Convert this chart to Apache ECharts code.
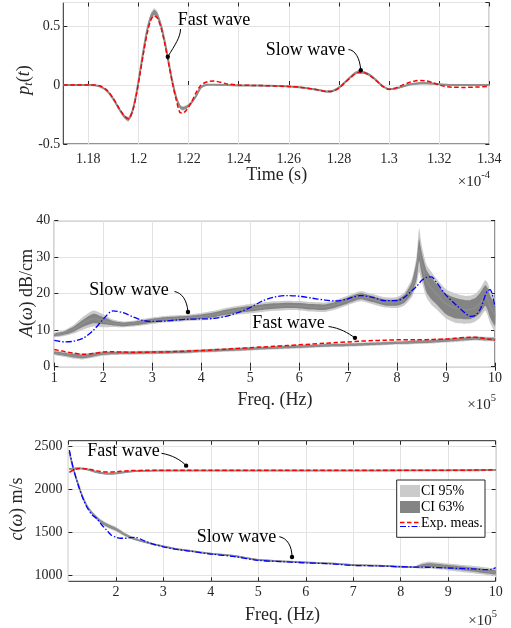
<!DOCTYPE html>
<html>
<head>
<meta charset="utf-8">
<script src="https://cdn.jsdelivr.net/npm/echarts@6/dist/echarts.min.js"></script>
<style>html,body{margin:0;padding:0;background:#fff;}#c{width:511px;height:628px;}</style>
</head>
<body>
<div id="c"></div>
<script>
// ---------- Top panel: transmitted pulse p_t(t), time in units of 1e-4 s ----------
const pulseTime = [1.170,1.175,1.180,1.1825,1.185,1.1875,1.190,1.1925,1.1945,1.196,
  1.1975,1.199,1.2005,1.202,1.2035,1.205,1.2063,1.2075,1.209,1.2105,
  1.212,1.2135,1.215,1.2165,1.2175,1.219,1.221,1.223,1.225,1.2275,
  1.230,1.235,1.240,1.245,1.250,1.255,1.260,1.265,1.270,1.2725,
  1.275,1.2775,1.280,1.2825,1.285,1.2875,1.290,1.2925,1.295,1.2975,
  1.300,1.3025,1.305,1.3075,1.310,1.3125,1.315,1.3175,1.320,1.3225,
  1.325,1.330,1.335,1.340];
const pulseModel = [0,0,0,-0.002,-0.015,-0.05,-0.12,-0.21,-0.27,-0.29,
  -0.227,-0.09,0.096,0.295,0.469,0.583,0.616,0.593,0.505,0.365,
  0.198,0.032,-0.102,-0.182,-0.198,-0.19,-0.153,-0.093,-0.019,0.002,
  0.003,0.0,-0.003,-0.004,-0.005,-0.008,-0.012,-0.02,-0.035,-0.045,
  -0.055,-0.05,-0.022,0.025,0.075,0.11,0.106,0.082,0.038,-0.01,
  -0.035,-0.03,-0.015,0.0,0.01,0.015,0.015,0.012,0.007,0.002,
  0.0,0.0,0.0,0.0];
const pulseExp = [0,0,0,0,-0.01,-0.045,-0.115,-0.205,-0.265,-0.285,
  -0.23,-0.1,0.08,0.27,0.44,0.555,0.587,0.57,0.485,0.35,
  0.185,0.02,-0.12,-0.232,-0.238,-0.215,-0.15,-0.065,0.0,0.028,
  0.034,0.012,0.0,-0.003,-0.005,-0.008,-0.012,-0.02,-0.035,-0.045,
  -0.054,-0.052,-0.025,0.022,0.07,0.104,0.104,0.078,0.034,-0.012,
  -0.036,-0.026,-0.004,0.018,0.033,0.039,0.035,0.02,0.0,-0.012,
  -0.018,-0.02,-0.017,-0.012];
const pulseCI95 = [.006,.006,.006,.006,.007,.008,.01,.014,.018,.022,
  .018,.012,.012,.016,.022,.03,.035,.032,.024,.016,
  .012,.012,.015,.019,.02,.018,.014,.01,.008,.006,
  .006,.006,.006,.006,.006,.006,.006,.006,.007,.007,
  .008,.008,.009,.01,.012,.013,.013,.012,.01,.009,
  .008,.008,.008,.009,.01,.011,.011,.01,.009,.008,
  .007,.006,.006,.006];
const pulseCI63 = [.003,.003,.003,.003,.004,.005,.006,.008,.011,.013,
  .011,.007,.007,.009,.013,.018,.02,.019,.014,.009,
  .007,.007,.009,.011,.012,.011,.008,.006,.005,.003,
  .003,.003,.003,.003,.003,.003,.003,.003,.004,.004,
  .005,.005,.005,.006,.007,.008,.008,.007,.006,.005,
  .005,.005,.005,.005,.006,.006,.006,.006,.005,.004,
  .004,.003,.003,.003];

// ---------- Middle panel: attenuation A(w) dB/cm, frequency in units of 1e5 Hz ----------
const attFreq = [1.0,1.2,1.4,1.6,1.8,2.0,2.2,2.4,2.6,2.8,3.0,
  3.25,3.5,3.75,4.0,4.25,4.5,4.75,5.0,5.25,5.5,5.75,6.0,6.25,6.5,6.75,7.0,7.25,7.5,7.75,8.0,
  8.15,8.3,8.4,8.45,8.5,8.6,8.7,8.8,
  9.0,9.2,9.4,9.5,9.6,9.7,9.8,9.85,9.9,10.0];
const attSlowModel = [8.7,9.2,10.3,12.0,13.2,12.6,11.9,11.6,11.8,12.2,12.6,
  13.0,13.2,13.4,13.7,14.2,14.9,15.5,15.9,16.3,16.6,16.8,16.7,16.4,16.3,17.0,18.2,19.3,18.5,17.6,17.6,
  18.6,21.5,26.5,32,28.5,23.5,21.5,20,
  17.2,16,15.6,15.7,16.2,17.5,19.5,18.5,16.5,14];
const attSlowCI95 = [0.6,0.8,1.2,1.8,2.2,1.8,1.0,0.8,0.8,0.9,0.9,
  0.9,0.9,0.9,1.0,1.1,1.2,1.2,1.3,1.3,1.3,1.3,1.3,1.3,1.3,1.3,1.3,1.4,1.4,1.4,1.5,
  1.8,2.5,4,6,5,4.5,4.5,4.2,
  4,4,3.8,3.8,3.8,4,4.2,4.5,4.5,4.2];
const attSlowCI63 = [0.35,0.45,0.7,1.0,1.3,1.0,0.6,0.5,0.5,0.55,0.55,
  0.55,0.55,0.55,0.6,0.65,0.7,0.7,0.75,0.75,0.75,0.75,0.75,0.75,0.75,0.75,0.8,0.8,0.8,0.8,0.9,
  1.1,1.6,2.5,3,3,3,3,2.8,
  2.8,2.8,2.6,2.6,2.6,2.8,2.8,3,3,2.8];
const attSlowExp = [7.2,6.8,7.0,7.9,10.0,13.0,15.3,14.8,13.7,12.7,12.4,
  12.5,12.8,13.0,13.1,13.2,13.8,14.8,16.2,18.0,19.1,19.5,19.3,18.8,18.3,18.0,18.6,19.5,19.0,18.1,18.1,
  19.0,20.8,22.0,22.8,23.6,24.5,24.6,23.2,
  19.6,17.0,14.6,13.8,14.1,15.8,19.5,20.8,21.1,16.4];
const attFastModel = [3.8,3.4,3.0,2.8,3.2,3.6,3.7,3.8,3.8,3.85,3.9,
  3.95,4.05,4.15,4.3,4.45,4.6,4.75,4.9,5.05,5.2,5.35,5.5,5.65,5.8,5.9,6.0,6.1,6.25,6.4,6.55,
  6.6,6.7,6.75,6.8,6.8,6.85,6.9,7.0,
  7.2,7.4,7.6,7.7,7.75,7.7,7.6,7.6,7.55,7.5];
const attFastExp = [4.7,4.2,3.7,3.4,3.6,4.0,4.1,4.0,3.95,3.95,4.0,
  4.05,4.15,4.3,4.45,4.6,4.8,5.0,5.2,5.4,5.6,5.8,6.0,6.2,6.4,6.6,6.8,7.0,7.15,7.25,7.35,
  7.35,7.35,7.35,7.35,7.4,7.4,7.45,7.5,
  7.6,7.8,8.0,8.05,8.05,7.9,7.7,7.6,7.5,7.3];
const attFastCI95 = [0.6,0.7,0.8,0.8,0.7,0.6,0.5,0.5,0.5,0.5,0.5,
  0.5,0.5,0.5,0.5,0.5,0.5,0.5,0.5,0.5,0.5,0.5,0.5,0.5,0.5,0.5,0.5,0.5,0.5,0.5,0.5,
  0.55,0.55,0.55,0.55,0.55,0.55,0.55,0.55,
  0.6,0.6,0.6,0.6,0.6,0.6,0.6,0.6,0.6,0.6];
const attFastCI63 = [0.35,0.4,0.45,0.45,0.4,0.35,0.3,0.3,0.3,0.3,0.3,
  0.3,0.3,0.3,0.3,0.3,0.3,0.3,0.3,0.3,0.3,0.3,0.3,0.3,0.3,0.3,0.3,0.3,0.3,0.3,0.3,
  0.33,0.33,0.33,0.33,0.33,0.33,0.33,0.33,
  0.36,0.36,0.36,0.36,0.36,0.36,0.36,0.36,0.36,0.36];

// ---------- Bottom panel: phase velocity c(w) m/s, frequency in units of 1e5 Hz ----------
const velFreq = [1.02,1.1,1.2,1.3,1.4,1.5,1.6,1.7,1.8,1.9,
  2.0,2.1,2.2,2.3,2.4,2.6,2.8,3.0,3.25,3.5,
  4.0,4.5,5.0,5.5,6.0,6.5,7.0,7.5,8.0,8.3,
  8.45,8.6,9.0,9.5,9.8,9.9,10.0];
const velSlowModel = [2440,2250,2070,1915,1800,1725,1668,1620,1588,1562,
  1538,1505,1472,1445,1422,1390,1362,1338,1308,1290,
  1252,1225,1180,1163,1150,1138,1120,1113,1100,1095,
  1110,1118,1097,1068,1048,1040,1035];
const velSlowExp = [2460,2255,2065,1905,1785,1705,1660,1590,1530,1470,
  1443,1432,1432,1440,1443,1402,1362,1332,1305,1286,
  1248,1218,1175,1160,1145,1135,1115,1110,1100,1096,
  1095,1093,1085,1075,1066,1068,1090];
const velSlowCI95 = [15,15,15,15,15,18,24,28,28,28,
  28,26,22,18,14,10,10,10,10,10,
  10,10,10,10,10,10,10,10,10,10,
  35,40,40,42,44,45,45];
const velSlowCI63 = [8,8,8,8,8,10,13,15,15,15,
  15,14,12,10,8,6,6,6,6,6,
  6,6,6,6,6,6,6,6,6,6,
  18,22,22,23,24,25,25];
const velFastModel = [2240,2245,2248,2245,2235,2220,2203,2192,2186,2185,
  2189,2196,2204,2210,2214,2218,2220,2221,2222,2222,
  2222,2222,2222,2222,2222,2222,2222,2222,2223,2223,
  2223,2223,2224,2225,2226,2226,2227];
const velFastExp = [2200,2225,2243,2246,2240,2230,2218,2210,2205,2205,
  2208,2213,2218,2221,2223,2224,2224,2224,2224,2224,
  2224,2224,2224,2224,2224,2224,2224,2224,2225,2225,
  2225,2225,2226,2227,2229,2230,2231];
const velFastCI95 = [10,10,10,10,12,14,14,14,14,14,
  14,12,10,10,10,9,9,9,9,9,
  9,9,9,9,9,9,9,9,9,9,
  9,9,9,9,9,9,9];
const velFastCI63 = [6,6,6,6,7,8,8,8,8,8,
  8,7,6,6,6,5,5,5,5,5,
  5,5,5,5,5,5,5,5,5,5,
  5,5,5,5,5,5,5];

// legend labels
const legendLabels = ['CI 95%', 'CI 63%', 'Exp. meas.'];

// ------------------------------------------------------------
const FF = 'Liberation Serif';
const INK = '#262626';
const LIGHT = '#cbcbcb';
const DARK = '#848484';
const MEDIAN = '#8e8e8e';
const GRIDC = '#e3e3e3';
const TICK_FS = 14;

const chart = echarts.init(document.getElementById('c'), null, {renderer: 'canvas'});

function band(xi, yi, xs, mid, w, color, z) {
  return {
    type: 'custom', xAxisIndex: xi, yAxisIndex: yi, silent: true, z: z,
    data: xs.map((x, i) => [x, mid[i]]),
    encode: {x: 0, y: 1},
    renderItem: function (params, api) {
      if (params.dataIndex !== 0) return null;
      const pts = [];
      for (let i = 0; i < xs.length; i++) pts.push(api.coord([xs[i], mid[i] + w[i]]));
      for (let i = xs.length - 1; i >= 0; i--) pts.push(api.coord([xs[i], mid[i] - w[i]]));
      return {type: 'polygon', shape: {points: pts, smooth: 0.2}, style: {fill: color}};
    }
  };
}
function line(xi, yi, xs, ys, color, width, dash, z) {
  return {
    type: 'line', xAxisIndex: xi, yAxisIndex: yi, silent: true, z: z,
    data: xs.map((x, i) => [x, ys[i]]),
    showSymbol: false, symbol: 'none', smooth: 0.3,
    lineStyle: {color: color, width: width, type: dash}
  };
}
function modelSet(xi, yi, xs, mid, w95, w63, mw) {
  return [band(xi, yi, xs, mid, w95, LIGHT, 2), band(xi, yi, xs, mid, w63, DARK, 3),
          line(xi, yi, xs, mid, MEDIAN, mw || 1.4, 'solid', 4)];
}
const RED_DASH = [4.5, 2.5];
const BLUE_DASHDOT = [6, 2, 1.5, 2];

const tickStyle = {inside: true, length: 4, lineStyle: {color: INK, width: 1}};
const plainNum = v => '{t|' + String(Math.round(v * 1000) / 1000) + '}';
const labelStyle = (m, extra) => Object.assign({
  color: INK, fontFamily: FF, fontSize: TICK_FS, margin: m, formatter: plainNum,
  rich: {t: {fontFamily: FF, fontSize: TICK_FS, color: INK}}
}, extra || {});
const split = {show: true, lineStyle: {color: GRIDC, width: 1}};
const hidden = (g, min, max) => ({gridIndex: g, type: 'value', min: min, max: max, show: false});

const grids = [
  {left: 63.3, right: 21.7, top: 2.5, bottom: 484, show: true, borderColor: INK, borderWidth: 1, backgroundColor: 'transparent', outerBoundsMode: 'none'},
  {left: 88.37, right: 21.7, top: 2.5, bottom: 484, show: false, outerBoundsMode: 'none'},
  {left: 54.3, right: 16, top: 220.7, bottom: 261.3, show: true, borderColor: INK, borderWidth: 1, backgroundColor: 'transparent', outerBoundsMode: 'none'},
  {left: 68.4, right: 15.3, top: 440.7, bottom: 46.7, show: true, borderColor: INK, borderWidth: 1, backgroundColor: 'transparent', outerBoundsMode: 'none'},
  {left: 68.4, right: 15.3, top: 446.7, bottom: 52.7, show: false, outerBoundsMode: 'none'}
];

const xAxes = [
  hidden(0, 1.17, 1.34),
  {gridIndex: 1, type: 'value', min: 1.18, max: 1.34, interval: 0.02, position: 'bottom',
   axisLine: {show: false}, axisTick: tickStyle, axisLabel: labelStyle(8), splitLine: split},
  {gridIndex: 1, type: 'value', min: 1.18, max: 1.34, interval: 0.02, position: 'top',
   axisLine: {show: false}, axisTick: tickStyle, axisLabel: {show: false}, splitLine: {show: false}},
  {gridIndex: 2, type: 'value', min: 1, max: 10, interval: 1, position: 'bottom',
   axisLine: {show: false}, axisTick: tickStyle, axisLabel: labelStyle(4.5), splitLine: split},
  {gridIndex: 2, type: 'value', min: 1, max: 10, interval: 1, position: 'top',
   axisLine: {show: false}, axisTick: tickStyle, axisLabel: {show: false}, splitLine: {show: false}},
  {gridIndex: 3, type: 'value', min: 1, max: 10, interval: 1, position: 'bottom',
   axisLine: {show: false}, axisTick: tickStyle, axisLabel: labelStyle(4, {showMinLabel: false}), splitLine: split},
  {gridIndex: 3, type: 'value', min: 1, max: 10, interval: 1, position: 'top',
   axisLine: {show: false}, axisTick: tickStyle, axisLabel: {show: false}, splitLine: {show: false}},
  hidden(4, 1, 10)
];
const yAxes = [
  {gridIndex: 0, type: 'value', min: -0.5, max: 0.7, interval: 0.5, position: 'left',
   axisLine: {show: false}, axisTick: tickStyle, axisLabel: labelStyle(3, {showMaxLabel: false}), splitLine: split},
  {gridIndex: 0, type: 'value', min: -0.5, max: 0.7, interval: 0.5, position: 'right',
   axisLine: {show: false}, axisTick: tickStyle, axisLabel: {show: false}, splitLine: {show: false}},
  hidden(1, -0.5, 0.7),
  {gridIndex: 2, type: 'value', min: 0, max: 40, interval: 10, position: 'left',
   axisLine: {show: false}, axisTick: tickStyle, axisLabel: labelStyle(4), splitLine: split},
  {gridIndex: 2, type: 'value', min: 0, max: 40, interval: 10, position: 'right',
   axisLine: {show: false}, axisTick: tickStyle, axisLabel: {show: false}, splitLine: {show: false}},
  hidden(3, 930, 2570),
  {gridIndex: 4, type: 'value', min: 1000, max: 2500, interval: 500, position: 'left',
   axisLine: {show: false}, axisTick: tickStyle, axisLabel: labelStyle(6), splitLine: split},
  {gridIndex: 4, type: 'value', min: 1000, max: 2500, interval: 500, position: 'right',
   axisLine: {show: false}, axisTick: tickStyle, axisLabel: {show: false}, splitLine: {show: false}}
];

const series = [].concat(
  modelSet(0, 0, pulseTime, pulseModel, pulseCI95, pulseCI63, 2),
  [line(0, 0, pulseTime, pulseExp, '#ff0000', 1.5, RED_DASH, 6)],
  modelSet(3, 3, attFreq, attSlowModel, attSlowCI95, attSlowCI63),
  modelSet(3, 3, attFreq, attFastModel, attFastCI95, attFastCI63),
  [line(3, 3, attFreq, attSlowExp, '#0000ff', 1.3, BLUE_DASHDOT, 6),
   line(3, 3, attFreq, attFastExp, '#ff0000', 1.5, RED_DASH, 6)],
  modelSet(5, 5, velFreq, velSlowModel, velSlowCI95, velSlowCI63, 1.8),
  modelSet(5, 5, velFreq, velFastModel, velFastCI95, velFastCI63, 1.8),
  [line(5, 5, velFreq, velSlowExp, '#0000ff', 1.3, BLUE_DASHDOT, 6),
   line(5, 5, velFreq, velFastExp, '#ff0000', 1.5, RED_DASH, 6)]
);

chart.setOption({
  animation: false,
  backgroundColor: '#ffffff',
  textStyle: {fontFamily: FF},
  grid: grids,
  xAxis: xAxes,
  yAxis: yAxes,
  series: series
});

// ---------- annotations, axis titles, legend ----------
const P = (xi, yi, pt) => chart.convertToPixel({xAxisIndex: xi, yAxisIndex: yi}, pt);
const annotations = [
  {text: 'Fast wave', tx: 177.7, ty: 20.5, s: [180.5, 29], c1: [180.5, 37], c2: [175, 45], xi: 0, yi: 0, pt: [1.2117, 0.24]},
  {text: 'Slow wave', tx: 265.7, ty: 50, s: [348.5, 49.5], c1: [355, 50], c2: [360, 58], xi: 0, yi: 0, pt: [1.2887, 0.125]},
  {text: 'Slow wave', tx: 89.3, ty: 290.7, s: [174.5, 291.5], c1: [182, 293], c2: [187, 300], xi: 3, yi: 3, pt: [3.73, 15.0]},
  {text: 'Fast wave', tx: 252.3, ty: 323, s: [328.5, 326.5], c1: [340, 328], c2: [348, 333], xi: 3, yi: 3, pt: [7.14, 7.9]},
  {text: 'Fast wave', tx: 87.3, ty: 451, s: [161.5, 453.3], c1: [172, 455], c2: [181, 460], xi: 5, yi: 5, pt: [3.48, 2279]},
  {text: 'Slow wave', tx: 196.7, ty: 537.7, s: [279.3, 536.7], c1: [287, 538], c2: [292, 546], xi: 5, yi: 5, pt: [5.71, 1213]}
];
const g = [];
annotations.forEach(a => {
  const d = P(a.xi, a.yi, a.pt);
  g.push({type: 'text', x: a.tx, y: a.ty, z: 100,
    style: {text: a.text, fill: '#000', fontFamily: FF, fontSize: 18, align: 'left', verticalAlign: 'middle'}});
  g.push({type: 'bezierCurve', z: 100,
    shape: {x1: a.s[0], y1: a.s[1], cpx1: a.c1[0], cpy1: a.c1[1], cpx2: a.c2[0], cpy2: a.c2[1], x2: d[0], y2: d[1]},
    style: {stroke: '#000', lineWidth: 1, fill: null}});
  g.push({type: 'circle', z: 101, shape: {cx: d[0], cy: d[1], r: 2.2}, style: {fill: '#000'}});
});

const titleRich = {
  n: {fontFamily: FF, fontSize: 18, fill: INK, lineHeight: 22},
  i: {fontFamily: FF, fontSize: 18, fontStyle: 'italic', fill: INK, lineHeight: 22},
  s: {fontFamily: FF, fontSize: 12, fontStyle: 'italic', fill: INK, lineHeight: 12, verticalAlign: 'bottom'}
};
const expRich = {
  a: {fontFamily: FF, fontSize: 15, fill: INK, lineHeight: 20, verticalAlign: 'bottom'},
  b: {fontFamily: FF, fontSize: 10.5, fill: INK, lineHeight: 11, verticalAlign: 'top'}
};
function xTitle(x, y, text) {
  return {type: 'text', x: x, y: y, style: {text: text, fill: INK, fontFamily: FF, fontSize: 18, align: 'center', verticalAlign: 'middle'}};
}
function yTitle(x, y, rt) {
  return {type: 'text', x: x, y: y, rotation: Math.PI / 2,
    style: {text: rt, rich: titleRich, align: 'center', verticalAlign: 'middle'}};
}
function expo(x, y, rt) {
  return {type: 'text', x: x, y: y, style: {text: rt, rich: expRich, align: 'right', verticalAlign: 'middle'}};
}
g.push(xTitle(276.7, 175, 'Time (s)'));
g.push(xTitle(275, 400.5, 'Freq. (Hz)'));
g.push(xTitle(282.5, 615, 'Freq. (Hz)'));
g.push(expo(490, 180, '{a|×10}{b|-4}'));
g.push(expo(496, 403, '{a|×10}{b|5}'));
g.push(expo(497, 619, '{a|×10}{b|5}'));
g.push(yTitle(24, 80, '{i|p}{s|t}{n|(}{i|t}{n|)}'));
g.push(yTitle(27, 293, '{i|A}{n|(}{i|ω}{n|) dB/cm}'));
g.push(yTitle(17, 509, '{i|c}{n|(}{i|ω}{n|) m/s}'));

// legend box in bottom panel
g.push({type: 'rect', z: 110, shape: {x: 396.7, y: 480, width: 88.3, height: 57.3},
  style: {fill: '#ffffff', stroke: INK, lineWidth: 1}});
g.push({type: 'rect', z: 111, shape: {x: 400, y: 485, width: 20, height: 12}, style: {fill: LIGHT}});
g.push({type: 'rect', z: 111, shape: {x: 400, y: 501, width: 20, height: 12}, style: {fill: DARK}});
g.push({type: 'line', z: 111, shape: {x1: 400, y1: 522.5, x2: 420, y2: 522.5},
  style: {stroke: '#ff0000', lineWidth: 1.3, lineDash: RED_DASH}});
g.push({type: 'line', z: 111, shape: {x1: 400, y1: 526.5, x2: 420, y2: 526.5},
  style: {stroke: '#0000ff', lineWidth: 1.2, lineDash: BLUE_DASHDOT}});
[[491, legendLabels[0]], [507.5, legendLabels[1]], [523.5, legendLabels[2]]].forEach(e => {
  g.push({type: 'text', z: 112, x: 421, y: e[0],
    style: {text: e[1], fill: '#000', fontFamily: FF, fontSize: 14, align: 'left', verticalAlign: 'middle'}});
});

chart.setOption({graphic: {elements: g}});
</script>
</body>
</html>
